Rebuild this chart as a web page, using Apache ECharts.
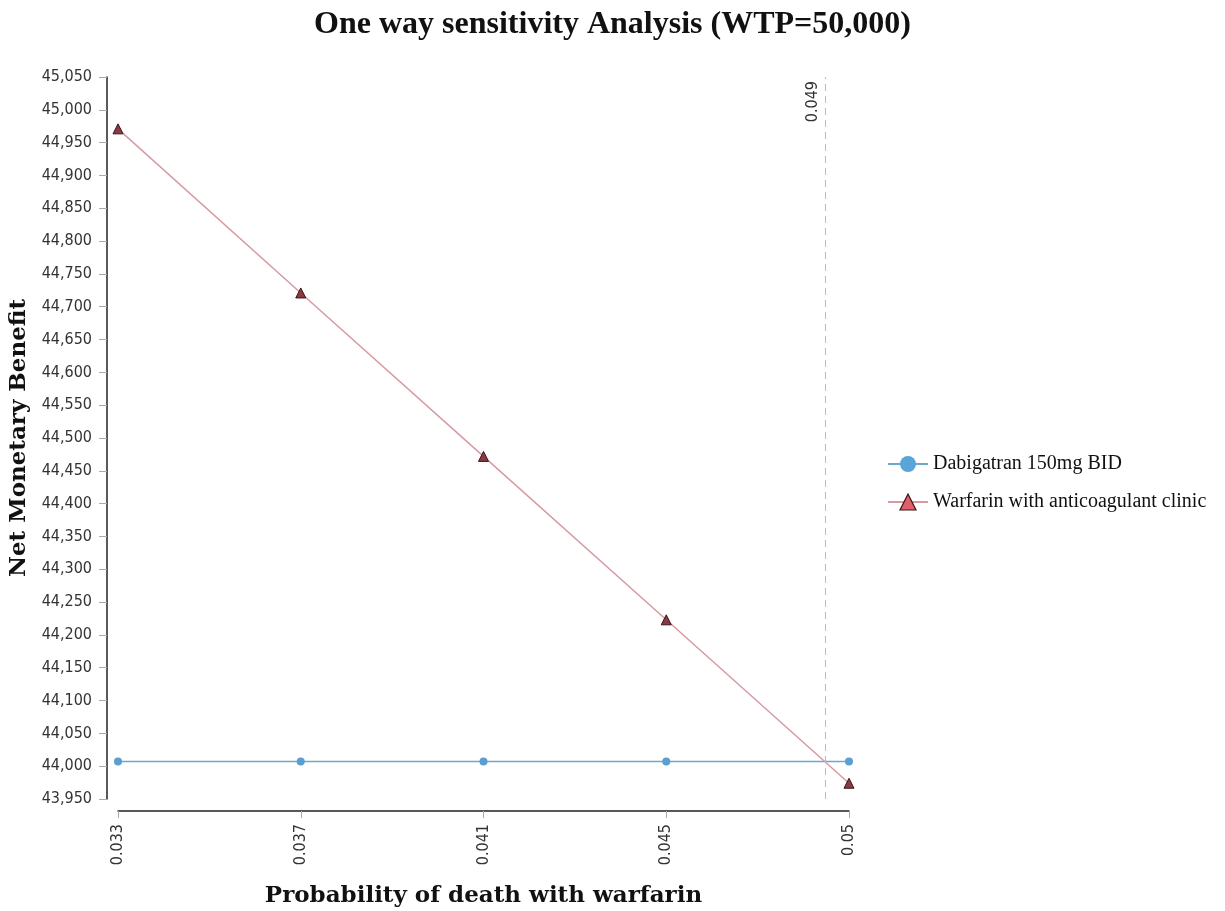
<!DOCTYPE html>
<html><head><meta charset="utf-8">
<script src="https://cdn.jsdelivr.net/npm/echarts@6/dist/echarts.min.js"></script>
<style>html,body{margin:0;padding:0;background:#fff}#c{width:1225px;height:911px}</style>
</head><body><div id="c"></div>
<script>
const xTickLabels = ['0.033', '0.037', '0.041', '0.045', '0.05'];
const dabigatran = [44007, 44007, 44007, 44007, 44007];
const warfarin = [44971, 44721, 44472, 44223, 43974];
const thresholdLabel = '0.049';
const seriesNames = ['Dabigatran 150mg BID', 'Warfarin with anticoagulant clinic'];

// locate crossing position (in category index units) from the data
let cross = null;
for (let i = 0; i < warfarin.length - 1; i++) {
  const d0 = warfarin[i] - dabigatran[i], d1 = warfarin[i + 1] - dabigatran[i + 1];
  if (d0 * d1 <= 0 && d0 !== d1) { cross = i + d0 / (d0 - d1); break; }
}

const tickFont = "'DejaVu Sans Condensed', 'DejaVu Sans', sans-serif";
const chart = echarts.init(document.getElementById('c'));
chart.setOption({
  animation: false,
  title: {
    text: 'One way sensitivity Analysis (WTP=50,000)',
    left: 'center', top: 4,
    textStyle: { fontFamily: 'Liberation Serif', fontWeight: 'bold', fontSize: 32, color: '#111' }
  },
  legend: {
    orient: 'vertical', left: 882, top: 449, itemGap: 18,
    itemWidth: 40, itemHeight: 20,
    textStyle: { fontFamily: 'Liberation Serif', fontSize: 20, color: '#111' },
    data: [
      { name: seriesNames[0], itemStyle: { color: '#5aa5d8', borderWidth: 0 } },
      { name: seriesNames[1], itemStyle: { color: '#e0606a', borderColor: '#3a1518', borderWidth: 1.2 } }
    ]
  },
  grid: { left: 118, right: 376, top: 77, bottom: 112, outerBoundsMode: 'none', containLabel: false },
  xAxis: {
    type: 'value', min: 0, max: xTickLabels.length - 1, interval: 1,
    offset: 12,
    name: 'Probability of death with warfarin', nameLocation: 'middle', nameGap: 74,
    nameTextStyle: { fontFamily: 'DejaVu Serif', fontWeight: 'bold', fontSize: 23, color: '#111' },
    axisLine: { onZero: false, lineStyle: { color: '#222', width: 1.5 } },
    axisTick: { show: true, length: 7, lineStyle: { color: '#aaa' } },
    axisLabel: { rotate: 90, fontFamily: tickFont, fontSize: 16, color: '#333', margin: 13,
      formatter: v => xTickLabels[Math.round(v)] },
    splitLine: { show: false }
  },
  yAxis: {
    type: 'value', min: 43950, max: 45050, interval: 50,
    offset: 11,
    name: 'Net Monetary Benefit', nameLocation: 'middle', nameGap: 74,
    nameTextStyle: { fontFamily: 'DejaVu Serif', fontWeight: 'bold', fontSize: 23, color: '#111' },
    axisLine: { show: true, onZero: false, lineStyle: { color: '#222', width: 1.5 } },
    axisTick: { show: true, length: 8, lineStyle: { color: '#aaa' } },
    axisLabel: { fontFamily: tickFont, fontSize: 16, color: '#333', margin: 15,
      formatter: v => v.toLocaleString('en-US') },
    splitLine: { show: false }
  },
  series: [
    {
      name: seriesNames[0], type: 'line',
      data: dabigatran.map((v, i) => [i, v]),
      symbol: 'circle', symbolSize: 8,
      itemStyle: { color: '#5a9fcf' },
      lineStyle: { color: '#6fa7cc', width: 1.5 },
      markLine: cross === null ? undefined : {
        silent: true, symbol: 'none',
        lineStyle: { color: '#bbb', type: [7, 5], width: 1 },
        label: { show: true, position: 'insideEndTop', formatter: thresholdLabel,
          fontFamily: tickFont, fontSize: 16, color: '#333', distance: 4 },
        data: [{ xAxis: cross }]
      }
    },
    {
      name: seriesNames[1], type: 'line',
      data: warfarin.map((v, i) => [i, v]),
      symbol: 'triangle', symbolSize: 10,
      itemStyle: { color: '#8a3a44', borderColor: '#3a1518', borderWidth: 1 },
      lineStyle: { color: '#d79aa2', width: 1.5 }
    }
  ]
});
</script></body></html>
